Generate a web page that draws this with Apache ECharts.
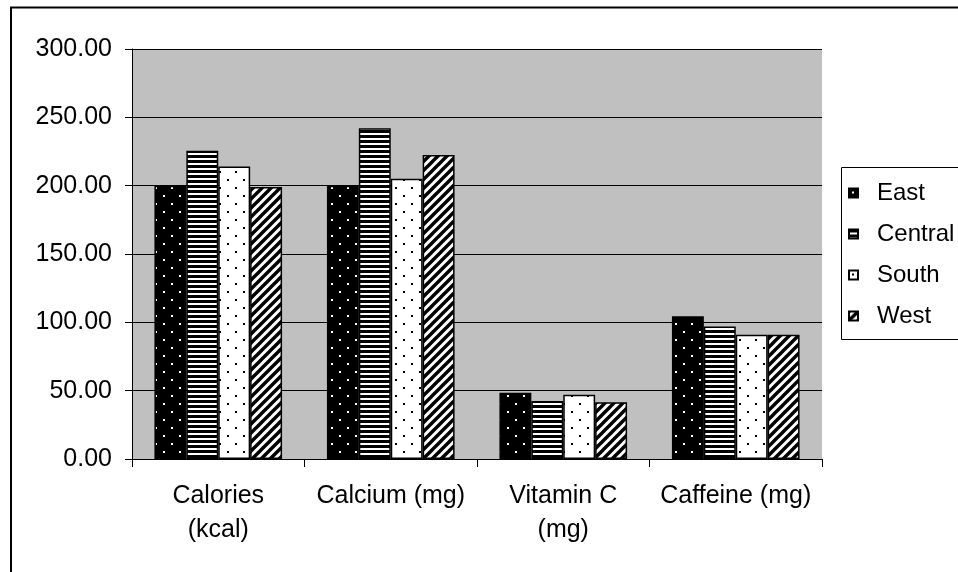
<!DOCTYPE html>
<html>
<head>
<meta charset="utf-8">
<script src="https://cdn.jsdelivr.net/npm/echarts@6/dist/echarts.min.js"></script>
<style>
html,body{margin:0;padding:0;background:#fff;}
#c{width:958px;height:572px;}
</style>
</head>
<body>
<div id="c"></div>
<script>
var categories = ["Calories\n(kcal)", "Calcium (mg)", "Vitamin C\n(mg)", "Caffeine (mg)"];
var seriesNames = ["East", "Central", "South", "West"];
var east = [200, 200, 48.5, 104.5];
var central = [225.5, 242, 42.5, 97];
var south = [214, 205, 47, 91];
var west = [199, 222.5, 41.5, 91];
var yTicks = [0, 50, 100, 150, 200, 250, 300];

function makeTile(w, h, draw) {
  var c = document.createElement('canvas');
  c.width = w; c.height = h;
  var ctx = c.getContext('2d');
  draw(ctx, w, h);
  return c;
}
var dotsOnBlack = makeTile(16, 16, function (ctx, w, h) {
  ctx.fillStyle = '#000'; ctx.fillRect(0, 0, w, h);
  ctx.fillStyle = '#fff';
  ctx.fillRect(3, 3, 2, 2);
  ctx.fillRect(11, 11, 2, 2);
});
var dotsOnWhite = makeTile(16, 16, function (ctx, w, h) {
  ctx.fillStyle = '#fff'; ctx.fillRect(0, 0, w, h);
  ctx.fillStyle = '#000';
  ctx.fillRect(3, 3, 2, 2);
  ctx.fillRect(11, 11, 2, 2);
});
var hStripes = makeTile(4, 5, function (ctx, w, h) {
  ctx.fillStyle = '#fff'; ctx.fillRect(0, 0, w, h);
  ctx.fillStyle = '#000'; ctx.fillRect(0, 0, w, 3);
});
var diag = makeTile(9, 9, function (ctx, s) {
  ctx.fillStyle = '#fff'; ctx.fillRect(0, 0, s, s);
  ctx.strokeStyle = '#000'; ctx.lineWidth = 3.4;
  ctx.beginPath();
  ctx.moveTo(-2, s + 2); ctx.lineTo(s + 2, -2);
  ctx.moveTo(-3, 3); ctx.lineTo(3, -3);
  ctx.moveTo(s - 3, s + 3); ctx.lineTo(s + 3, s - 3);
  ctx.stroke();
});
var patterns = [dotsOnBlack, hStripes, dotsOnWhite, diag];
var values = [east, central, south, west];

var FONT = '"Liberation Sans", Arial, sans-serif';

var chart = echarts.init(document.getElementById('c'), null, {renderer: 'canvas'});
var series = seriesNames.map(function (n, i) {
  return {
    name: n,
    type: 'bar',
    data: values[i],
    barGap: '0%',
    barCategoryGap: '26%',
    itemStyle: {
      color: {image: patterns[i], repeat: 'repeat'},
      borderColor: '#000',
      borderWidth: 1.5
    },
    emphasis: {disabled: true},
    animation: false
  };
});

chart.setOption({
  animation: false,
  backgroundColor: '#fff',
  grid: {left: 132, right: 136, top: 49, bottom: 113, show: true, backgroundColor: '#c0c0c0', borderWidth: 0},
  xAxis: {
    type: 'category',
    data: categories,
    axisLine: {lineStyle: {color: '#000', width: 1}},
    axisTick: {show: true, length: 8, lineStyle: {color: '#000'}, alignWithLabel: false},
    axisLabel: {color: '#000', fontFamily: FONT, fontSize: 25, lineHeight: 34, margin: 20, interval: 0}
  },
  yAxis: {
    type: 'value',
    min: yTicks[0], max: yTicks[yTicks.length - 1], interval: 50,
    axisLine: {show: true, lineStyle: {color: '#000', width: 1}},
    axisTick: {show: true, length: 7, lineStyle: {color: '#000'}},
    splitLine: {show: true, lineStyle: {color: '#000', width: 1}},
    axisLabel: {color: '#000', fontFamily: FONT, fontSize: 25, margin: 20,
      formatter: function (v) { return v.toFixed(2); }}
  },
  legend: {
    orient: 'vertical',
    left: 843, top: 176,
    itemWidth: 9, itemHeight: 9,
    itemGap: 17,
    icon: 'rect',
    textStyle: {color: '#000', fontFamily: FONT, fontSize: 24, padding: [0, 0, 0, 14]},
    data: seriesNames
  },
  graphic: [
    {type: 'rect', shape: {x: 11, y: 7.5, width: 960, height: 580}, style: {fill: null, stroke: '#000', lineWidth: 2}, silent: true},
    {type: 'rect', shape: {x: 841.5, y: 167.5, width: 130, height: 172}, style: {fill: null, stroke: '#000', lineWidth: 1}, silent: true}
  ],
  series: series
});
</script>
</body>
</html>
